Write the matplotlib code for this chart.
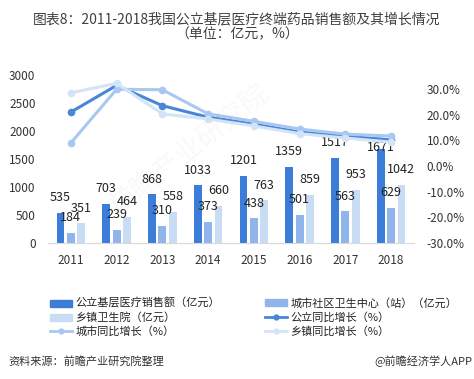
import matplotlib
matplotlib.use("Agg")
import matplotlib.pyplot as plt
import numpy as np
from matplotlib.ticker import FuncFormatter, MultipleLocator

plt.rcParams['font.family'] = ['Noto Sans CJK SC', 'DejaVu Sans']

years = ['2011', '2012', '2013', '2014', '2015', '2016', '2017', '2018']
public_sales = [535, 703, 868, 1033, 1201, 1359, 1517, 1671]
city_sales = [184, 239, 310, 373, 438, 501, 563, 629]
town_sales = [351, 464, 558, 660, 763, 859, 953, 1042]
public_growth = [21.0, 31.4, 23.5, 19.0, 16.3, 13.2, 11.6, 10.2]
city_growth = [9.0, 29.9, 29.7, 20.3, 17.4, 14.4, 12.4, 11.7]
town_growth = [28.5, 32.2, 20.3, 18.3, 15.6, 12.6, 10.9, 9.3]

c_dark = '#3B7DD8'
c_mid = '#8FB5EC'
c_light = '#C8DCF6'
l_public = '#4A86D8'
l_city = '#A9C8F1'
l_town = '#D3E3F8'

W, H = 474, 379
fig = plt.figure(figsize=(W / 100, H / 100), dpi=100)
ax = fig.add_axes([48 / W, 1 - 243 / H, (414 - 48) / W, (243 - 75) / H])

x = np.arange(len(years))
bw = 0.17
off = 0.225
ax.bar(x - off, public_sales, bw, color=c_dark, zorder=2)
ax.bar(x, city_sales, bw, color=c_mid, zorder=2)
ax.bar(x + off, town_sales, bw, color=c_light, zorder=2)

ax.set_xlim(-0.5, len(years) - 0.5)
ax.set_ylim(0, 3000)
ax.yaxis.set_major_locator(MultipleLocator(500))
ax.set_xticks(x)
ax.set_xticklabels(years)
ax.tick_params(axis='both', length=0, labelsize=8.5, colors='#333333')
ax.tick_params(axis='y', pad=9)
ax.tick_params(axis='x', pad=8)
for s in ['top', 'right', 'left']:
    ax.spines[s].set_visible(False)
ax.spines['bottom'].set_color('#D9D9D9')

lab_kw = dict(ha='center', va='center', fontsize=9, color='#222222', zorder=5)
for series, dx in [(public_sales, -off), (city_sales, 0), (town_sales, off)]:
    for xi, v in zip(x, series):
        yv = v + 270
        if yv > 1900:
            yv = v + 30
        ax.text(xi + dx, yv, str(v), **lab_kw)

ax2 = ax.twinx()
ax2.set_ylim(-30, -30 + 168 / 2.567)
ax2.set_yticks([-30, -20, -10, 0, 10, 20, 30])
ax2.yaxis.set_major_formatter(FuncFormatter(lambda v, p: f'{v:.1f}%'))
ax2.tick_params(axis='y', length=0, labelsize=8.5, colors='#333333', pad=9)
for s in ['top', 'right', 'left', 'bottom']:
    ax2.spines[s].set_visible(False)

ax2.plot(x, public_growth, color=l_public, lw=2.2, marker='o', ms=4.5, zorder=3)
ax2.plot(x, city_growth, color=l_city, lw=2.2, marker='o', ms=4.5, zorder=4)
ax2.plot(x, town_growth, color=l_town, lw=2.2, marker='o', ms=4.5, zorder=5)

# Title
fig.text(0.5, 1 - 19 / H, '图表8：2011-2018我国公立基层医疗终端药品销售额及其增长情况',
         ha='center', va='center', fontsize=10, color='#404040')
fig.text(0.5, 1 - 34 / H, '（单位：亿元，%）',
         ha='center', va='center', fontsize=10, color='#404040')

# Legends
from matplotlib.patches import Patch
from matplotlib.lines import Line2D
h_dark = Patch(color=c_dark)
h_mid = Patch(color=c_mid)
h_light = Patch(color=c_light)
h_pub = Line2D([], [], color=l_public, lw=2, marker='o', ms=3.5)
h_city = Line2D([], [], color=l_city, lw=2, marker='o', ms=3.5)
h_town = Line2D([], [], color=l_town, lw=2, marker='o', ms=3.5)

leg_kw = dict(frameon=False, fontsize=8, loc='upper left', borderpad=0, borderaxespad=0,
              handlelength=2.0, handleheight=0.6, handletextpad=0.3, labelspacing=0.3,
              labelcolor='#222222')
leg1 = fig.legend([h_dark, h_light, h_city],
                  ['公立基层医疗销售额（亿元）', '乡镇卫生院（亿元）', '城市同比增长（%）'],
                  bbox_to_anchor=(50 / W, 1 - 298 / H), **leg_kw)
leg2 = fig.legend([h_mid, h_pub, h_town],
                  ['城市社区卫生中心（站）（亿元）', '公立同比增长（%）', '乡镇同比增长（%）'],
                  bbox_to_anchor=(265 / W, 1 - 298 / H), **leg_kw)

# Footer
fig.text(8 / W, 1 - 361 / H, '资料来源：前瞻产业研究院整理', ha='left', va='center',
         fontsize=8, color='#333333', style='italic')
fig.text(472 / W, 1 - 361 / H, '@前瞻经济学人APP', ha='right', va='center',
         fontsize=8, color='#333333')

# faint watermark
fig.text(190 / W, 1 - 150 / H, '前瞻产业研究院', ha='center', va='center', rotation=38,
         fontsize=20, color='#888888', alpha=0.05, zorder=10)

fig.savefig('out.png', dpi=100)
